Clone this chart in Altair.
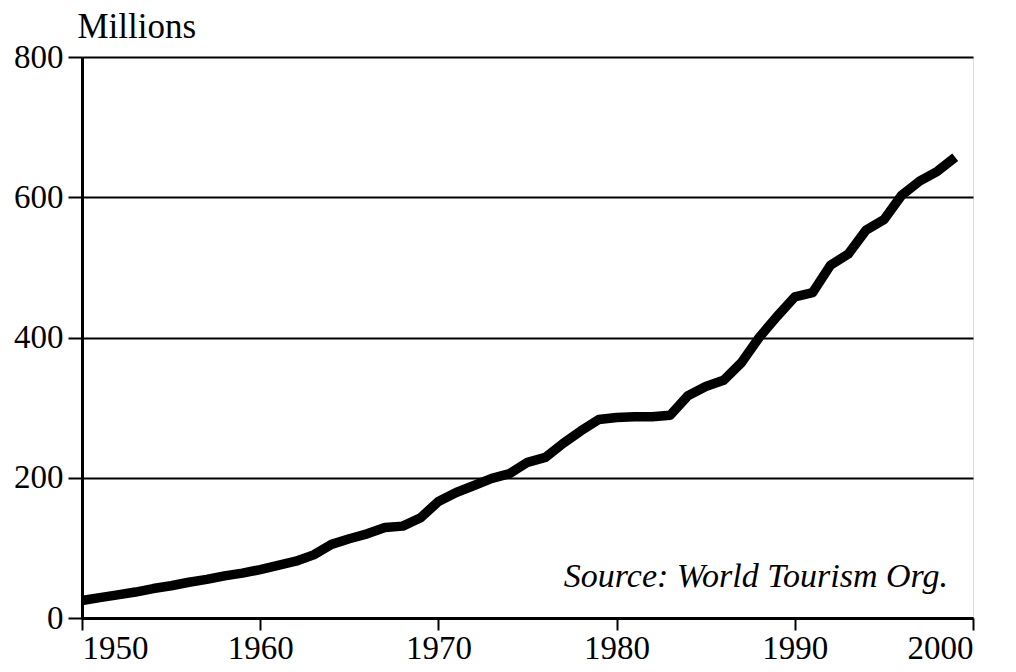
import altair as alt
import pandas as pd

years = list(range(1950, 2000))
arrivals = [25, 29, 33, 37, 42, 46, 51, 55, 60, 64,
            69, 75, 81, 90, 105, 113, 120, 129, 131, 143,
            166, 179, 189, 199, 206, 222, 229, 249, 267, 283,
            286, 287, 287, 289, 317, 330, 339, 364, 400, 430,
            458, 464, 503, 519, 553, 568, 603, 623, 637, 657]
x_ticks = [1950, 1960, 1970, 1980, 1990, 2000]
y_ticks = [0, 200, 400, 600, 800]
source_text = ["Source: World Tourism Org."]

df = pd.DataFrame({"year": years, "value": arrivals})
src = pd.DataFrame({"label": source_text})

FONT = "Liberation Serif"

line = alt.Chart(df).mark_line(color="black", strokeWidth=9.5, strokeCap="butt", strokeJoin="round").encode(
    x=alt.X("year:Q",
            scale=alt.Scale(domain=[1950, 2000], nice=False, zero=False),
            axis=alt.Axis(values=x_ticks, format="d", title=None, grid=False,
                          tickSize=12, tickWidth=2, tickColor="black",
                          labelFont=FONT, labelFontSize=33, labelColor="black",
                          labelPadding=2, domainColor="black", domainWidth=3)),
    y=alt.Y("value:Q",
            scale=alt.Scale(domain=[0, 800], nice=False),
            axis=alt.Axis(values=y_ticks, title="Millions", grid=True,
                          gridColor="black", gridWidth=2, gridOpacity=1,
                          tickSize=14, tickWidth=2, tickColor="black",
                          labelFont=FONT, labelFontSize=33, labelColor="black",
                          labelPadding=5, domainColor="black", domainWidth=3,
                          titleAngle=0, titleAlign="left", titleBaseline="alphabetic",
                          titleX=-5, titleY=-20, titleFont=FONT, titleFontSize=35,
                          titleFontWeight="normal", titleColor="black")),
)

note = alt.Chart(src).mark_text(align="right", baseline="alphabetic", font=FONT,
                                fontSize=34, fontStyle="italic", color="black").encode(
    text="label:N",
    x=alt.value(866),
    y=alt.value(530),
)

chart = alt.layer(line, note).properties(
    width=891, height=561,
    autosize=alt.AutoSizeParams(type="none"),
    padding={"left": 74, "top": 49, "right": 35, "bottom": 50},
).configure_view(stroke="black", strokeWidth=3).configure(background="white")

chart.save("out.html", embed_options={"renderer": "svg", "actions": False})
